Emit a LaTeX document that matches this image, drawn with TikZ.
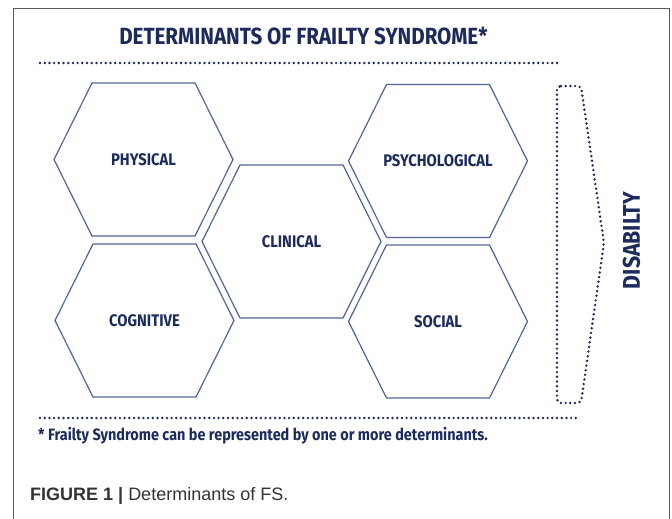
\documentclass[tikz,border=0pt]{standalone}
\usepackage{fontspec}
\usepackage{tikz}
\usetikzlibrary{positioning}
\newfontfamily\condfont{Fira Sans}[FakeStretch=0.88]
\newfontfamily\capfont{Liberation Sans}
\definecolor{navy}{HTML}{1D2B5C}
\definecolor{hexblue}{HTML}{4F6794}
\definecolor{framegray}{HTML}{5A5A5A}
\definecolor{capgray}{HTML}{333333}

\begin{document}
\begin{tikzpicture}[x=1pt,y=-1pt]
\tikzstyle{hexline}=[hexblue, line width=1.2pt, line join=round]
\tikzstyle{detlabel}=[navy, font=\condfont\bfseries\fontsize{16.8}{16.8}\selectfont, inner sep=0pt]
\tikzstyle{dotline}=[navy, line width=2.7pt, line cap=round, dash pattern=on 0pt off 4.7pt]
\useasboundingbox (0,0) rectangle (672,519);
\fill[white] (0,0) rectangle (672,519);
\draw[framegray, line width=1pt] (13,519) -- (13,9) -- (669,9) -- (669,519); %open frame
\node[navy, font=\condfont\bfseries\fontsize{23.4}{23.4}\selectfont, inner sep=0pt] (title) at (303.5,36) {DETERMINANTS OF FRAILTY SYNDROME*};
\coordinate (topleft) at (40,63);
\coordinate (topright) at (561,63);
\draw[dotline] (topleft) -- (topright);
% the five determinants
\foreach \name/\cx/\cy/\txt in {physical/143.5/159.5/PHYSICAL, clinical/291.5/241.5/CLINICAL,
  cognitive/144.5/320.5/COGNITIVE, psychological/438/161/PSYCHOLOGICAL, social/438/321.5/SOCIAL}{
  \draw[hexline] ({\cx-89.5},\cy) -- ({\cx-51.5},{\cy-76.5}) -- ({\cx+51.5},{\cy-76.5})
    -- ({\cx+89.5},\cy) -- ({\cx+51.5},{\cy+76.5}) -- ({\cx-51.5},{\cy+76.5}) -- cycle;
  \node[detlabel] (\name) at (\cx,\cy) {\txt};
}
% disability arrow
\draw[dotline, rounded corners=4pt] (557,86) -- (581,86) -- (604,243) -- (581,403) -- (557,403) -- cycle;
\node[navy, rotate=90, font=\condfont\bfseries\fontsize{24.2}{24.2}\selectfont, inner sep=0pt] (disab) at (631.5,240.5) {DISABILTY};
\coordinate (botleft) at (40,418);
\coordinate (botright) at (579,418);
\draw[dotline] (botleft) -- (botright);
\node[navy, anchor=west, font=\condfont\bfseries\fontsize{16.4}{16.4}\selectfont, inner sep=0pt] (note) at (38,436) {* Frailty Syndrome can be represented by one or more determinants.};
\node[capgray, anchor=west, font=\capfont\fontsize{18}{18}\selectfont, inner sep=0pt] (caption) at (30,496) {\textbf{FIGURE 1 |} Determinants of FS.};
\end{tikzpicture}
\end{document}
